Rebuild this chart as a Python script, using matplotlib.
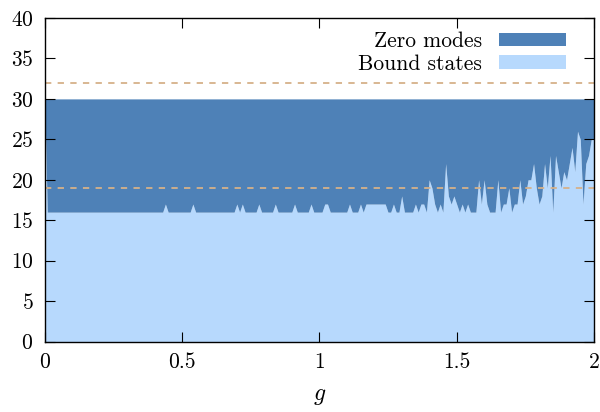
import numpy as np
import matplotlib.pyplot as plt

plt.rcParams['font.family'] = ['cmr10', 'DejaVu Serif']
plt.rcParams['mathtext.fontset'] = 'cm'
plt.rcParams['axes.formatter.use_mathtext'] = True

# coupling g, sampled every 0.01 from 0 to 2
g = np.linspace(0, 2, 201)

# number of bound states at each g
bound_states = [
    31, 16, 16, 16, 16, 16, 16, 16, 16, 16, 16, 16, 16, 16, 16, 16, 16, 16, 16, 16,
    16, 16, 16, 16, 16, 16, 16, 16, 16, 16, 16, 16, 16, 16, 16, 16, 16, 16, 16, 16,
    16, 16, 16, 16, 17, 16, 16, 16, 16, 16, 16, 16, 16, 16, 17, 16, 16, 16, 16, 16,
    16, 16, 16, 16, 16, 16, 16, 16, 16, 16, 17, 16, 17, 16, 16, 16, 16, 16, 17, 16,
    16, 16, 16, 16, 17, 16, 16, 16, 16, 16, 16, 17, 16, 16, 16, 16, 16, 17, 16, 16,
    16, 16, 17, 17, 16, 16, 16, 16, 16, 16, 16, 17, 16, 16, 16, 17, 16, 17, 17, 17,
    17, 17, 17, 17, 17, 16, 16, 17, 16, 16, 18, 16, 16, 16, 16, 17, 16, 17, 17, 16,
    20, 19, 17, 16, 17, 16, 22, 18, 17, 18, 17, 16, 17, 16, 17, 16, 16, 16, 20, 17,
    20, 17, 16, 16, 16, 20, 16, 17, 17, 19, 16, 17, 17, 20, 17, 18, 20, 20, 22, 19,
    17, 18, 22, 19, 23, 16, 23, 21, 19, 21, 20, 22, 24, 21, 26, 25, 17, 22, 23, 25,
    25,
]
# bound states + zero modes stay at 30
total_states = 30

levels = [32, 19]
legend_labels = ['Zero modes', 'Bound states']

bound = np.array(bound_states, dtype=float)

fig = plt.figure(figsize=(6.0, 4.12), dpi=100)
ax = fig.add_axes([0.0742, 0.171, 0.9158, 0.7853])

ax.fill_between(g, 0, bound, color='#b7d9fd', lw=0, label=legend_labels[1])
ax.fill_between(g, bound, total_states, where=bound <= total_states, interpolate=True,
                color='#4e81b7', lw=0, label=legend_labels[0])
for y in levels:
    ax.axhline(y, color='#d6b189', lw=1.3, ls=(0, (3.5, 3.5)))

ax.set_xlim(0, 2)
ax.set_ylim(0, 40)
ax.set_xticks([0, 0.5, 1, 1.5, 2])
ax.set_xticklabels(['0', '0.5', '1', '1.5', '2'])
ax.set_yticks(range(0, 41, 5))
ax.tick_params(direction='in', top=True, right=True, length=7, width=0.8,
               labelsize=15.5, pad=8)
for s in ax.spines.values():
    s.set_linewidth(1.0)
ax.set_xlabel('$g$', fontsize=17, labelpad=9)

h, l = ax.get_legend_handles_labels()
ax.legend(h[::-1], l[::-1], loc='upper right', frameon=False, markerfirst=False,
          fontsize=15.5, handlelength=3.1, handleheight=0.6, handletextpad=0.8,
          labelspacing=0.15, borderaxespad=0.0, bbox_to_anchor=(0.965, 0.985))

fig.savefig('out.png', dpi=100)
